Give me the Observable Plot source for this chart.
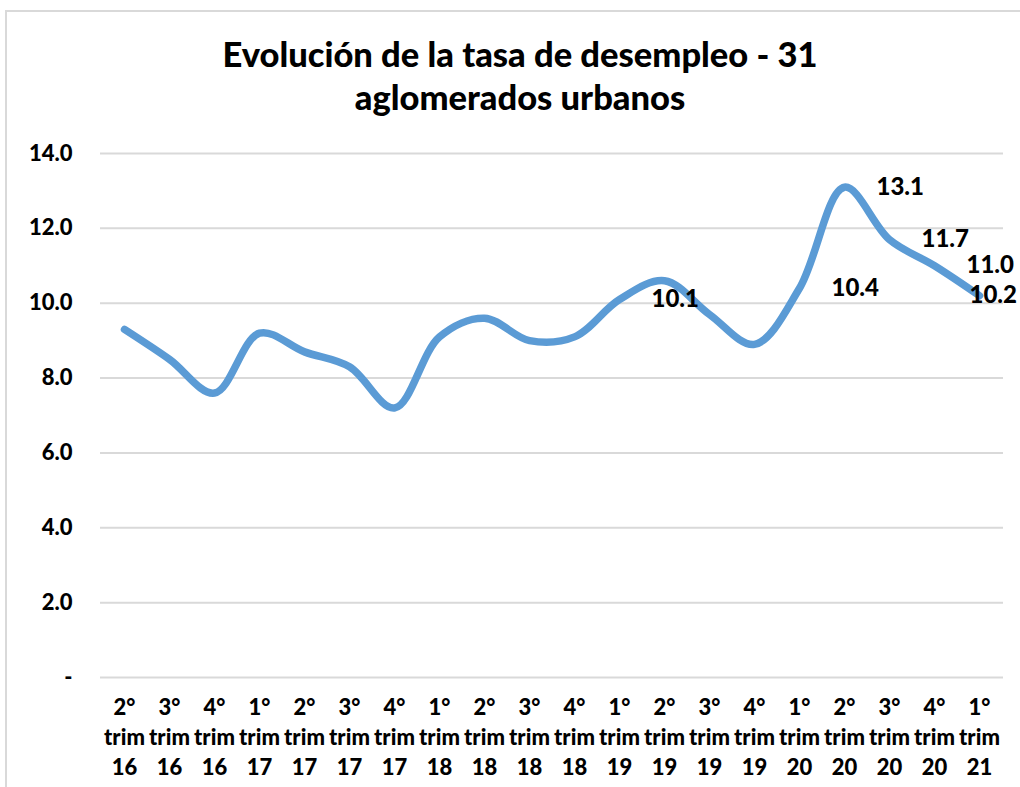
<!DOCTYPE html>
<html>
<head>
<meta charset="utf-8">
<script src="https://cdn.jsdelivr.net/npm/d3@7"></script>
<script src="https://cdn.jsdelivr.net/npm/@observablehq/plot@0.6"></script>
<style>
  html, body { margin: 0; padding: 0; background: #fff; overflow: hidden; }
  body { width: 1020px; height: 787px; position: relative; font-family: Lato, "Open Sans", sans-serif; }
  #frame { position: absolute; left: 5px; top: 10px; width: 1060px; height: 820px; border: 2px solid #d9d9d9; box-sizing: border-box; }
  #title { position: absolute; left: 0; top: 32px; width: 1040px; text-align: center; font-weight: 900; font-size: 34.5px; line-height: 43px; color: #000; }
  #chart { position: absolute; left: 0; top: 140px; }
</style>
</head>
<body>
<div id="frame"></div>
<div id="title">Evolución de la tasa de desempleo - 31<br>aglomerados urbanos</div>
<div id="chart"></div>
<script>
const quarters = ["2°","3°","4°","1°","2°","3°","4°","1°","2°","3°","4°","1°","2°","3°","4°","1°","2°","3°","4°","1°"];
const years    = ["16","16","16","17","17","17","17","18","18","18","18","19","19","19","19","20","20","20","20","21"];
const values   = [9.3, 8.5, 7.6, 9.2, 8.7, 8.3, 7.2, 9.1, 9.6, 9.0, 9.1, 10.1, 10.6, 9.7, 8.9, 10.4, 13.1, 11.7, 11.0, 10.2];
const yTicks   = [0, 2, 4, 6, 8, 10, 12, 14];
// points that carry a data label in the original
const labelled = [11, 15, 16, 17, 18];
const labelledEnd = [19];

const cats = quarters.map((q, i) => `${q}\ntrim\n${years[i]}`);
const rows = cats.map((c, i) => ({cat: c, value: values[i], i}));
const fmt = d => d === 0 ? "-" : d.toFixed(1);

const chart = Plot.plot({
  width: 1020,
  height: 647,
  marginLeft: 100,
  marginRight: 17,
  marginTop: 13,
  marginBottom: 110,
  style: {fontFamily: "Lato, sans-serif", fontWeight: "900", color: "#000", background: "transparent", overflow: "visible"},
  x: {type: "point", domain: cats, padding: 0.5, label: null},
  y: {domain: [0, 14], label: null},
  marks: [
    Plot.gridY(yTicks, {stroke: "#d9d9d9", strokeOpacity: 1, strokeWidth: 2}),
    Plot.axisY(yTicks, {tickSize: 0, tickPadding: 28, tickFormat: fmt, fontSize: 22, fontWeight: "900", fill: "#000", label: null}),
    Plot.axisX({tickSize: 0, tickPadding: 16, fontSize: 22, fontWeight: "900", lineHeight: 1.36, fill: "#000", label: null}),
    Plot.line(rows, {x: "cat", y: "value", curve: "catmull-rom", stroke: "#5B9BD5", strokeWidth: 7.5, strokeLinecap: "round", strokeLinejoin: "round"}),
    Plot.text(rows.filter(d => labelled.includes(d.i)), {x: "cat", y: "value", text: d => d.value.toFixed(1), textAnchor: "start", dx: 32, fontSize: 24, fontWeight: "900", fill: "#000"}),
    Plot.text(rows.filter(d => labelledEnd.includes(d.i)), {x: "cat", y: "value", text: d => d.value.toFixed(1), textAnchor: "start", dx: -10, fontSize: 24, fontWeight: "900", fill: "#000"})
  ]
});
document.getElementById("chart").appendChild(chart);
</script>
</body>
</html>
